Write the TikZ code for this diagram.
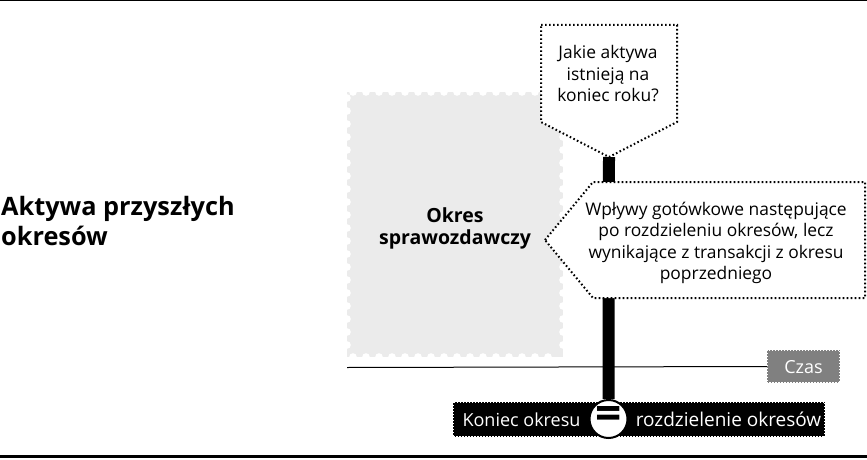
\documentclass[tikz,border=0pt]{standalone}
\usepackage{fontspec}
\setmainfont{Open Sans}
\definecolor{stampgray}{HTML}{EBEBEB}
\definecolor{czasgray}{HTML}{808080}
\begin{document}
\begin{tikzpicture}[x=1pt,y=-1pt,
  lbl/.style={font=\fontsize{17.4}{21.5}\selectfont, align=center, inner sep=0pt},
  dotbox/.style={draw=black, line width=2pt, dash pattern=on 1.6pt off 2.4pt, fill=white},
  perf/.style={draw=white, line width=1.5pt, dash pattern=on 1.2pt off 1.8pt},
  wtxt/.style={text=white, font=\fontsize{19}{21}\selectfont, inner sep=0pt, anchor=base}
]
\useasboundingbox (0,0) rectangle (867,460);
% frame lines
\draw[line width=1pt] (0,0.5) -- (867,0.5);
\draw[line width=3pt] (0,456.5) -- (867,456.5);
% title
\node[anchor=north west, align=left, inner sep=0pt, font=\bfseries\fontsize{25.3}{30}\selectfont] (title) at (1,196) {Aktywa przyszłych\\okresów};
% gray stamp (reporting period)
\fill[stampgray] (347,92) rectangle (563,357);
\foreach \x in {353,366,...,560} {\fill[white] (\x,92) circle (3.8); \fill[white] (\x,357) circle (3.8);}
\foreach \y in {98,111,...,352} {\fill[white] (347,\y) circle (3.8); \fill[white] (563,\y) circle (3.8);}
\node[lbl, font=\bfseries\fontsize{19.5}{22}\selectfont] (okres) at (455,228) {Okres\\sprawozdawczy};
% time axis
\node[fill=czasgray, minimum width=73pt, minimum height=33pt, inner sep=0pt] (czas) at (803.5,366.5) {};
\draw[perf] (czas.north west) rectangle (czas.south east);
\node[wtxt, font=\fontsize{18}{21}\selectfont] (czastxt) at (803.5,373) {Czas};
\draw[line width=1pt] (347,367.5) -- (czas.west);
% black bar, banner and separator
\coordinate (tip1) at (609,157);
\node[fill=black, minimum width=372pt, minimum height=35pt, inner sep=0pt] (banner) at (639,419.5) {};
\draw[perf] (banner.north west) rectangle (banner.south east);
\node[circle, fill=white, draw=black, line width=2pt, minimum size=38pt, inner sep=0pt] (eq) at (608.5,419) {};
\draw[line width=12pt] (tip1) -- (eq.north);
\node[inner sep=0pt, font=\bfseries\fontsize{46}{46}\selectfont] (eqsign) at (608.5,418) {=};
\node[wtxt, font=\fontsize{18}{21}\selectfont] (koniec) at (521.5,426) {Koniec okresu};
\node[wtxt] (rozdz) at (728.5,426) {rozdzielenie okresów};
% callout 1
\draw[dotbox] (541,25) -- (677,25) -- (677,122) -- (tip1) -- (541,122) -- cycle;
\node[lbl] (q1) at (608,74) {Jakie aktywa\\istnieją na\\koniec roku?};
% callout 2
\draw[dotbox] (545,240) coordinate (tip2) -- (593,182) -- (865,182) -- (865,298) -- (593,298) -- cycle;
\node[lbl] (q2) at (716,243) {Wpływy gotówkowe następujące\\po rozdzieleniu okresów, lecz\\wynikające z transakcji z okresu\\poprzedniego};
\end{tikzpicture}
\end{document}
